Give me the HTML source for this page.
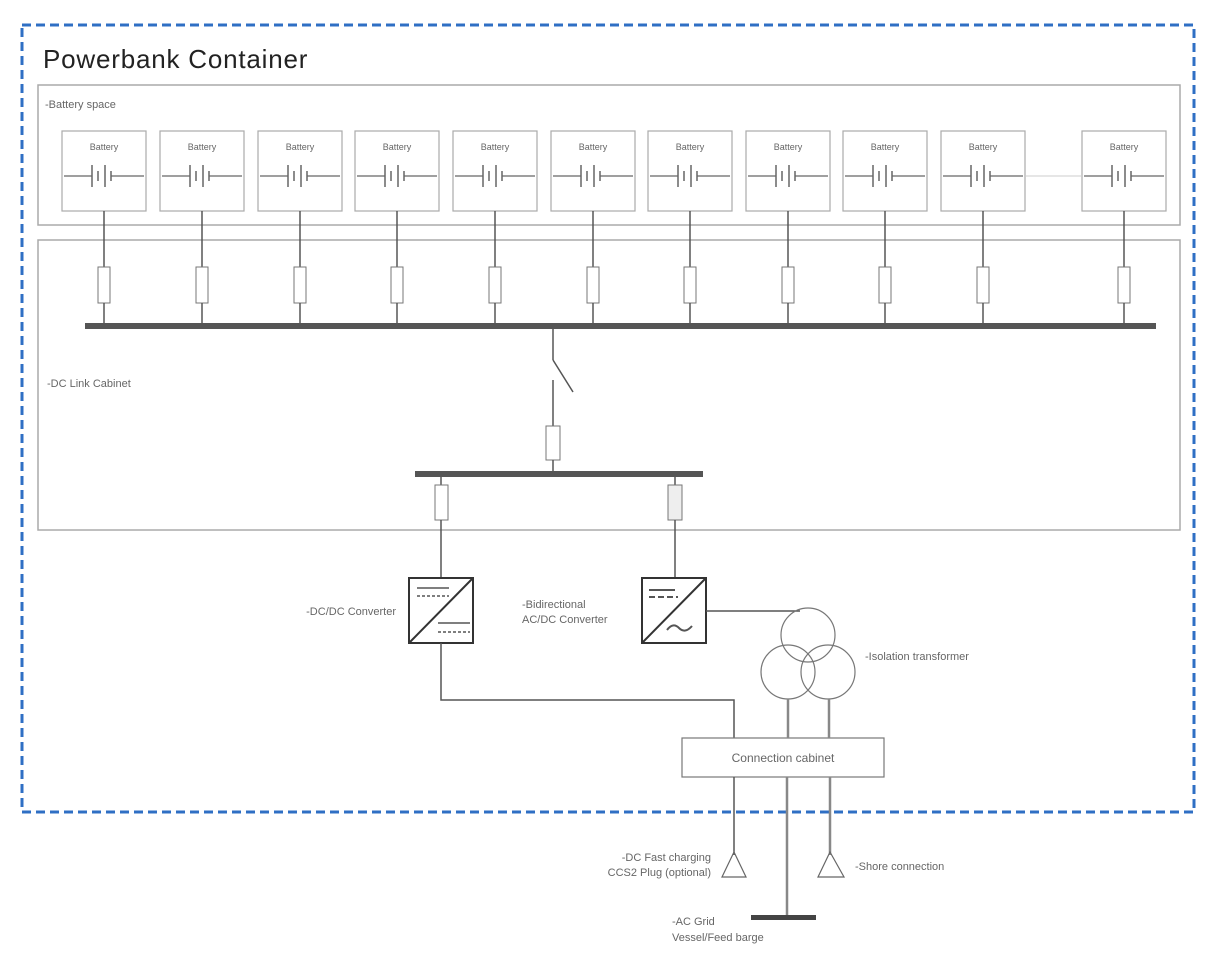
<!DOCTYPE html>
<html><head><meta charset="utf-8"><style>
html,body{margin:0;padding:0;background:#fff;}
svg{display:block;}
text{font-family:"Liberation Sans",sans-serif;fill:#666;}
</style></head><body>
<svg width="1232" height="965" viewBox="0 0 1232 965" xmlns="http://www.w3.org/2000/svg">
<defs>
<g id="bat" fill="none">
<rect x="-42" y="131" width="84" height="80" stroke="#aaa" stroke-width="1.2"/>
<line x1="-40" y1="176" x2="-12" y2="176" stroke="#666" stroke-width="1.2"/>
<line x1="-12" y1="165" x2="-12" y2="187" stroke="#666" stroke-width="1.5"/>
<line x1="-6" y1="171" x2="-6" y2="181" stroke="#666" stroke-width="1.5"/>
<line x1="1" y1="165" x2="1" y2="187" stroke="#666" stroke-width="1.5"/>
<line x1="7" y1="171" x2="7" y2="181" stroke="#666" stroke-width="1.5"/>
<line x1="7" y1="176" x2="40" y2="176" stroke="#666" stroke-width="1.2"/>
<line x1="0" y1="211" x2="0" y2="267" stroke="#555" stroke-width="1.5"/>
<rect x="-6" y="267" width="12" height="36" stroke="#777" stroke-width="1"/>
<line x1="0" y1="303" x2="0" y2="324" stroke="#555" stroke-width="1.5"/>
</g>
</defs>
<rect x="22" y="25" width="1172" height="787" fill="none" stroke="#2f6fc4" stroke-width="3" stroke-dasharray="9,5"/>
<text x="43" y="68" font-size="26" letter-spacing="0.8" style="fill:#222">Powerbank Container</text>
<rect x="38" y="85" width="1142" height="140" fill="none" stroke="#aaa" stroke-width="1.5"/>
<text x="45" y="108" font-size="11">-Battery space</text>
<rect x="38" y="240" width="1142" height="290" fill="none" stroke="#aaa" stroke-width="1.5"/>
<text x="47" y="387" font-size="11">-DC Link Cabinet</text>
<use href="#bat" x="104"/><use href="#bat" x="202"/><use href="#bat" x="300"/><use href="#bat" x="397"/>
<use href="#bat" x="495"/><use href="#bat" x="593"/><use href="#bat" x="690"/><use href="#bat" x="788"/>
<use href="#bat" x="885"/><use href="#bat" x="983"/><use href="#bat" x="1124"/>
<g font-size="9" text-anchor="middle">
<text x="104" y="150">Battery</text><text x="202" y="150">Battery</text><text x="300" y="150">Battery</text>
<text x="397" y="150">Battery</text><text x="495" y="150">Battery</text><text x="593" y="150">Battery</text>
<text x="690" y="150">Battery</text><text x="788" y="150">Battery</text><text x="885" y="150">Battery</text>
<text x="983" y="150">Battery</text><text x="1124" y="150">Battery</text>
</g>
<line x1="1026" y1="176" x2="1082" y2="176" stroke="#ccc" stroke-width="1"/>
<rect x="85" y="323" width="1071" height="6" fill="#555"/>
<g stroke="#555" stroke-width="1.5" fill="none">
<line x1="553" y1="329" x2="553" y2="360"/>
<line x1="553" y1="360" x2="573" y2="392"/>
<line x1="553" y1="380" x2="553" y2="426"/>
<rect x="546" y="426" width="14" height="34" fill="#fff" stroke="#777" stroke-width="1"/>
<line x1="553" y1="460" x2="553" y2="472"/>
</g>
<rect x="415" y="471" width="288" height="6" fill="#555"/>
<g stroke="#555" stroke-width="1.5" fill="none">
<line x1="441" y1="477" x2="441" y2="485"/>
<rect x="435" y="485" width="13" height="35" stroke="#777" stroke-width="1"/>
<line x1="441" y1="520" x2="441" y2="578"/>
<line x1="675" y1="477" x2="675" y2="485"/>
<rect x="668" y="485" width="14" height="35" stroke="#777" stroke-width="1" fill="#eee"/>
<line x1="675" y1="520" x2="675" y2="578"/>
<rect x="409" y="578" width="64" height="65" stroke="#333" stroke-width="2"/>
<line x1="410" y1="642" x2="472" y2="579" stroke="#333" stroke-width="2"/>
<line x1="417" y1="588" x2="449" y2="588"/>
<line x1="417" y1="596" x2="449" y2="596" stroke-dasharray="3,2"/>
<line x1="438" y1="623" x2="470" y2="623"/>
<line x1="438" y1="632" x2="470" y2="632" stroke-dasharray="3,2"/>
<rect x="642" y="578" width="64" height="65" stroke="#333" stroke-width="2"/>
<line x1="643" y1="642" x2="705" y2="579" stroke="#333" stroke-width="2"/>
<line x1="649" y1="590" x2="675" y2="590" stroke-width="2"/>
<line x1="649" y1="597" x2="678" y2="597" stroke-width="2" stroke-dasharray="6,3"/>
<path d="M667 630 q6 -8 12 -2 q6 6 13 -2" stroke-width="2"/>
<line x1="706" y1="611" x2="800" y2="611"/>
<circle cx="808" cy="635" r="27" stroke="#777" stroke-width="1.2"/>
<circle cx="788" cy="672" r="27" stroke="#777" stroke-width="1.2"/>
<circle cx="828" cy="672" r="27" stroke="#777" stroke-width="1.2"/>
<polyline points="441,643 441,700 734,700 734,738"/>
<rect x="682" y="738" width="202" height="39" stroke="#777" stroke-width="1.2"/>
<line x1="788" y1="699" x2="788" y2="738" stroke-width="2.5" stroke="#888"/>
<line x1="829" y1="699" x2="829" y2="738" stroke-width="2.5" stroke="#888"/>
<line x1="734" y1="777" x2="734" y2="855"/>
<line x1="787" y1="777" x2="787" y2="916" stroke-width="2.5" stroke="#888"/>
<line x1="830" y1="777" x2="830" y2="855" stroke-width="2.5" stroke="#888"/>
<polygon points="734,852 722,877 746,877" stroke="#666" stroke-width="1.2"/>
<polygon points="830,852 818,877 844,877" stroke="#666" stroke-width="1.2"/>
</g>
<rect x="751" y="915" width="65" height="5" fill="#444"/>
<text x="396" y="615" font-size="11" text-anchor="end">-DC/DC Converter</text>
<text x="522" y="608" font-size="11">-Bidirectional</text>
<text x="522" y="623" font-size="11">AC/DC Converter</text>
<text x="865" y="660" font-size="11">-Isolation transformer</text>
<text x="783" y="762" font-size="12" text-anchor="middle">Connection cabinet</text>
<text x="711" y="861" font-size="11" text-anchor="end">-DC Fast charging</text>
<text x="711" y="876" font-size="11" text-anchor="end">CCS2 Plug (optional)</text>
<text x="855" y="870" font-size="11">-Shore connection</text>
<text x="672" y="925" font-size="11">-AC Grid</text>
<text x="672" y="941" font-size="11">Vessel/Feed barge</text>
</svg>
</body></html>
